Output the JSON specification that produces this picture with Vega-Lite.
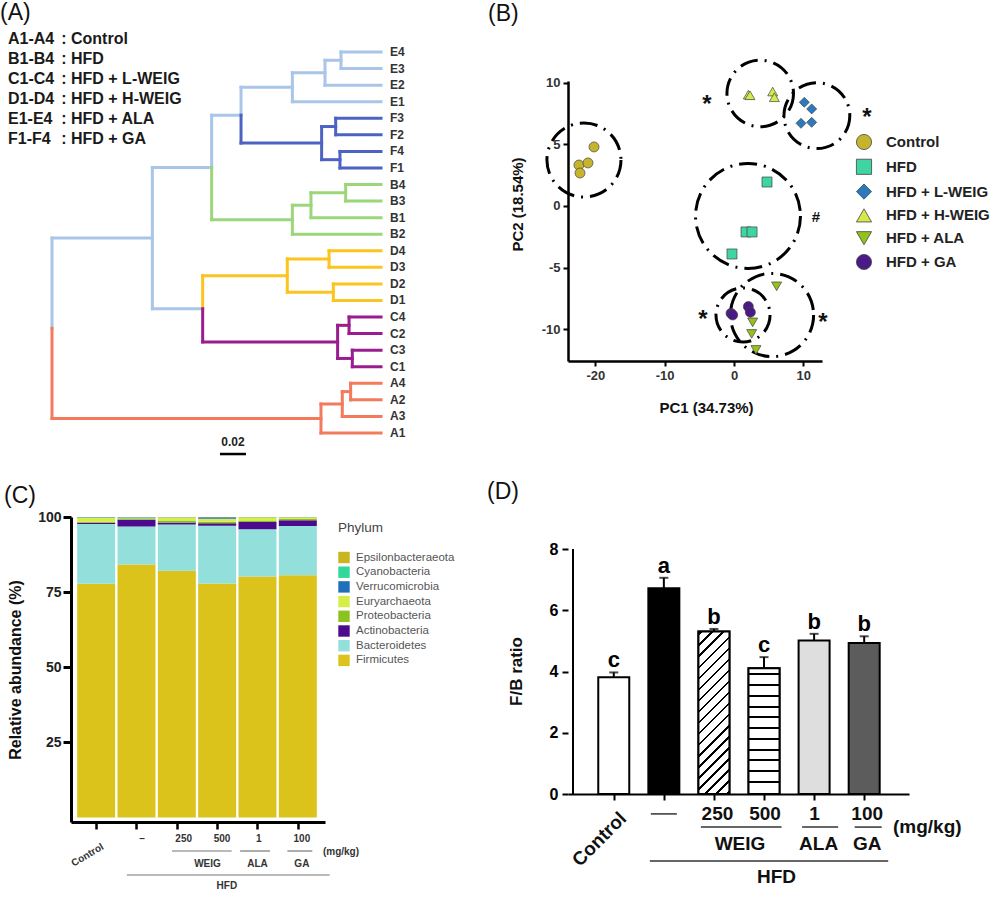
{
  "$schema": "https://vega.github.io/schema/vega-lite/v6.json",
  "autosize": {"type": "pad"},
  "padding": {"left": 0, "top": 2, "right": 0, "bottom": 0},
  "columns": 2,
  "align": "none",
  "bounds": "flush",
  "spacing": {"row": 156, "column": 243},
  "resolve": {"scale": {"color": "independent", "shape": "independent", "size": "independent", "fill": "independent", "stroke": "independent"}},
  "config": {
    "view": {"stroke": null},
    "font": "Liberation Sans",
    "axis": {"grid": false, "domainColor": "#000", "tickColor": "#000", "labelFont": "Liberation Sans", "titleFont": "Liberation Sans", "titleColor": "#111", "labelColor": "#222"},
    "legend": {"labelFont": "Liberation Sans", "titleFont": "Liberation Sans"},
    "title": {"font": "Liberation Sans", "fontSize": 23, "fontWeight": "normal", "color": "#111", "anchor": "start", "frame": "group", "baseline": "bottom"}
  },
  "concat": [
    {
      "width": 253, "height": 248,
      "title": {"text": "(A)", "dx": -71, "offset": 6},
      "layer": [
        {
          "data": {"values": [
            {"x":0,"x2":0.0772,"y":12.234,"y2":12.234,"c":"lb"},
            {"x":0,"x2":0.2069,"y":23.125,"y2":23.125,"c":"r"},
            {"x":0.0772,"x2":0.1228,"y":7.969,"y2":7.969,"c":"lb"},
            {"x":0.0772,"x2":0.1159,"y":16.5,"y2":16.5,"c":"lb"},
            {"x":0.1228,"x2":0.1454,"y":4.8125,"y2":4.8125,"c":"lb"},
            {"x":0.1228,"x2":0.1849,"y":11.125,"y2":11.125,"c":"g"},
            {"x":0.1454,"x2":0.1849,"y":3.125,"y2":3.125,"c":"lb"},
            {"x":0.1454,"x2":0.2074,"y":6.5,"y2":6.5,"c":"db"},
            {"x":0.1849,"x2":0.21,"y":2.25,"y2":2.25,"c":"lb"},
            {"x":0.1849,"x2":0.2531,"y":4,"y2":4,"c":"lb"},
            {"x":0.21,"x2":0.2223,"y":1.5,"y2":1.5,"c":"lb"},
            {"x":0.21,"x2":0.2531,"y":3,"y2":3,"c":"lb"},
            {"x":0.2223,"x2":0.2531,"y":1,"y2":1,"c":"lb"},
            {"x":0.2223,"x2":0.2531,"y":2,"y2":2,"c":"lb"},
            {"x":0.2074,"x2":0.2182,"y":5.5,"y2":5.5,"c":"db"},
            {"x":0.2074,"x2":0.2215,"y":7.5,"y2":7.5,"c":"db"},
            {"x":0.2182,"x2":0.2531,"y":5,"y2":5,"c":"db"},
            {"x":0.2182,"x2":0.2531,"y":6,"y2":6,"c":"db"},
            {"x":0.2215,"x2":0.2531,"y":7,"y2":7,"c":"db"},
            {"x":0.2215,"x2":0.2531,"y":8,"y2":8,"c":"db"},
            {"x":0.1849,"x2":0.1992,"y":10.25,"y2":10.25,"c":"g"},
            {"x":0.1849,"x2":0.2531,"y":12,"y2":12,"c":"g"},
            {"x":0.1992,"x2":0.2259,"y":9.5,"y2":9.5,"c":"g"},
            {"x":0.1992,"x2":0.2531,"y":11,"y2":11,"c":"g"},
            {"x":0.2259,"x2":0.2531,"y":9,"y2":9,"c":"g"},
            {"x":0.2259,"x2":0.2531,"y":10,"y2":10,"c":"g"},
            {"x":0.1159,"x2":0.181,"y":14.5,"y2":14.5,"c":"y"},
            {"x":0.1159,"x2":0.2197,"y":18.5,"y2":18.5,"c":"p"},
            {"x":0.181,"x2":0.2131,"y":13.5,"y2":13.5,"c":"y"},
            {"x":0.181,"x2":0.2164,"y":15.5,"y2":15.5,"c":"y"},
            {"x":0.2131,"x2":0.2531,"y":13,"y2":13,"c":"y"},
            {"x":0.2131,"x2":0.2531,"y":14,"y2":14,"c":"y"},
            {"x":0.2164,"x2":0.2531,"y":15,"y2":15,"c":"y"},
            {"x":0.2164,"x2":0.2531,"y":16,"y2":16,"c":"y"},
            {"x":0.2197,"x2":0.2285,"y":17.5,"y2":17.5,"c":"p"},
            {"x":0.2197,"x2":0.231,"y":19.5,"y2":19.5,"c":"p"},
            {"x":0.2285,"x2":0.2531,"y":17,"y2":17,"c":"p"},
            {"x":0.2285,"x2":0.2531,"y":18,"y2":18,"c":"p"},
            {"x":0.231,"x2":0.2531,"y":19,"y2":19,"c":"p"},
            {"x":0.231,"x2":0.2531,"y":20,"y2":20,"c":"p"},
            {"x":0.2069,"x2":0.2233,"y":22.25,"y2":22.25,"c":"r"},
            {"x":0.2069,"x2":0.2531,"y":24,"y2":24,"c":"r"},
            {"x":0.2233,"x2":0.2297,"y":21.5,"y2":21.5,"c":"r"},
            {"x":0.2233,"x2":0.2531,"y":23,"y2":23,"c":"r"},
            {"x":0.2297,"x2":0.2531,"y":21,"y2":21,"c":"r"},
            {"x":0.2297,"x2":0.2531,"y":22,"y2":22,"c":"r"},
            {"x":0,"x2":0,"y":12.234,"y2":17.68,"c":"lb"},
            {"x":0,"x2":0,"y":17.68,"y2":23.125,"c":"r"},
            {"x":0.0772,"x2":0.0772,"y":7.969,"y2":16.5,"c":"lb"},
            {"x":0.1228,"x2":0.1228,"y":4.8125,"y2":7.969,"c":"lb"},
            {"x":0.1228,"x2":0.1228,"y":7.969,"y2":11.125,"c":"g"},
            {"x":0.1159,"x2":0.1159,"y":14.5,"y2":16.5,"c":"y"},
            {"x":0.1159,"x2":0.1159,"y":16.5,"y2":18.5,"c":"p"},
            {"x":0.1454,"x2":0.1454,"y":3.125,"y2":4.8125,"c":"lb"},
            {"x":0.1454,"x2":0.1454,"y":4.8125,"y2":6.5,"c":"db"},
            {"x":0.1849,"x2":0.1849,"y":2.25,"y2":4,"c":"lb"},
            {"x":0.21,"x2":0.21,"y":1.5,"y2":3,"c":"lb"},
            {"x":0.2223,"x2":0.2223,"y":1,"y2":2,"c":"lb"},
            {"x":0.2074,"x2":0.2074,"y":5.5,"y2":7.5,"c":"db"},
            {"x":0.2182,"x2":0.2182,"y":5,"y2":6,"c":"db"},
            {"x":0.2215,"x2":0.2215,"y":7,"y2":8,"c":"db"},
            {"x":0.1849,"x2":0.1849,"y":10.25,"y2":12,"c":"g"},
            {"x":0.1992,"x2":0.1992,"y":9.5,"y2":11,"c":"g"},
            {"x":0.2259,"x2":0.2259,"y":9,"y2":10,"c":"g"},
            {"x":0.181,"x2":0.181,"y":13.5,"y2":15.5,"c":"y"},
            {"x":0.2131,"x2":0.2131,"y":13,"y2":14,"c":"y"},
            {"x":0.2164,"x2":0.2164,"y":15,"y2":16,"c":"y"},
            {"x":0.2197,"x2":0.2197,"y":17.5,"y2":19.5,"c":"p"},
            {"x":0.2285,"x2":0.2285,"y":17,"y2":18,"c":"p"},
            {"x":0.231,"x2":0.231,"y":19,"y2":20,"c":"p"},
            {"x":0.2069,"x2":0.2069,"y":22.25,"y2":24,"c":"r"},
            {"x":0.2233,"x2":0.2233,"y":21.5,"y2":23,"c":"r"},
            {"x":0.2297,"x2":0.2297,"y":21,"y2":22,"c":"r"}
          ]},
          "mark": {"type": "rule", "strokeWidth": 3, "strokeCap": "square"},
          "encoding": {
            "x": {"field": "x", "type": "quantitative", "scale": {"domain": [0.014615, 0.209231], "nice": false, "zero": false}, "axis": null},
            "x2": {"field": "x2"},
            "y": {"field": "y", "type": "quantitative", "scale": {"domain": [2.7507, 17.722], "reverse": true, "nice": false, "zero": false}, "axis": null},
            "y2": {"field": "y2"},
            "color": {"field": "c", "type": "nominal", "scale": {"domain": ["lb", "db", "g", "y", "p", "r"], "range": ["#a9c5e8", "#4d63c4", "#9cd67a", "#fbc41e", "#9a1c8f", "#f47a5d"]}, "legend": null}
          }
        },
        {
          "data": {"values": [
            {"leaf":"E4","i":1},{"leaf":"E3","i":2},{"leaf":"E2","i":3},{"leaf":"E1","i":4},
            {"leaf":"F3","i":5},{"leaf":"F2","i":6},{"leaf":"F4","i":7},{"leaf":"F1","i":8},
            {"leaf":"B4","i":9},{"leaf":"B3","i":10},{"leaf":"B1","i":11},{"leaf":"B2","i":12},
            {"leaf":"D4","i":13},{"leaf":"D3","i":14},{"leaf":"D2","i":15},{"leaf":"D1","i":16},
            {"leaf":"C4","i":17},{"leaf":"C2","i":18},{"leaf":"C3","i":19},{"leaf":"C1","i":20},
            {"leaf":"A4","i":21},{"leaf":"A2","i":22},{"leaf":"A3","i":23},{"leaf":"A1","i":24}
          ]},
          "mark": {"type": "text", "align": "left", "baseline": "middle", "fontSize": 12, "fontWeight": "bold", "color": "#333"},
          "encoding": {
            "x": {"datum": 0.26, "type": "quantitative"},
            "y": {"field": "i", "type": "quantitative"},
            "text": {"field": "leaf"}
          }
        },
        {
          "data": {"values": [
            {"key":"A1-A4","lab":"Control","r":0.2155},
            {"key":"B1-B4","lab":"HFD","r":1.422},
            {"key":"C1-C4","lab":"HFD + L-WEIG","r":2.629},
            {"key":"D1-D4","lab":"HFD + H-WEIG","r":3.836},
            {"key":"E1-E4","lab":"HFD + ALA","r":5.043},
            {"key":"F1-F4","lab":"HFD + GA","r":6.25}
          ]},
          "layer": [
            {"mark": {"type": "text", "align": "left", "baseline": "middle", "fontSize": 16, "fontWeight": "bold", "color": "#1a1a1a"},
             "encoding": {"x": {"datum": -0.03385, "type": "quantitative"}, "y": {"field": "r", "type": "quantitative"}, "text": {"field": "key"}}},
            {"mark": {"type": "text", "align": "center", "baseline": "middle", "fontSize": 16, "fontWeight": "bold", "color": "#1a1a1a"},
             "encoding": {"x": {"datum": 0.00923, "type": "quantitative"}, "y": {"field": "r", "type": "quantitative"}, "text": {"value": ":"}}},
            {"mark": {"type": "text", "align": "left", "baseline": "middle", "fontSize": 16, "fontWeight": "bold", "color": "#1a1a1a"},
             "encoding": {"x": {"datum": 0.014615, "type": "quantitative"}, "y": {"field": "r", "type": "quantitative"}, "text": {"field": "lab"}}}
          ]
        },
        {
          "data": {"values": [{"a": 0.1292, "b": 0.1492, "yy": 25.27, "lbl": "0.02", "m": 0.1392, "ty": 24.54}]},
          "layer": [
            {"mark": {"type": "rule", "strokeWidth": 2.5, "color": "#000"},
             "encoding": {"x": {"field": "a", "type": "quantitative"}, "x2": {"field": "b"}, "y": {"field": "yy", "type": "quantitative"}}},
            {"mark": {"type": "text", "align": "center", "baseline": "middle", "fontSize": 12, "fontWeight": "bold", "color": "#222"},
             "encoding": {"x": {"field": "m", "type": "quantitative"}, "y": {"field": "ty", "type": "quantitative"}, "text": {"field": "lbl"}}}
          ]
        }
      ]
    },
    {
      "width": 254, "height": 280,
      "title": {"text": "(B)", "dx": -80, "offset": 28},
      "encoding": {
        "x": {"field": "px", "type": "quantitative", "scale": {"domain": [-23.94, 12.69], "nice": false, "zero": false},
              "axis": {"values": [-20, -10, 0, 10], "labelExpr": "'' + datum.value", "title": "PC1 (34.73%)", "titleX": 138, "titleY": 46, "titleBaseline": "middle", "titleFontSize": 15, "titleFontWeight": "bold", "labelFontSize": 13, "labelFontWeight": "bold", "labelColor": "#333", "labelPadding": 3, "tickSize": 5, "tickWidth": 2, "domainWidth": 2.5}},
        "y": {"field": "py", "type": "quantitative", "scale": {"domain": [-12.6, 10.16], "nice": false, "zero": false},
              "axis": {"values": [-10, -5, 0, 5, 10], "labelExpr": "'' + datum.value", "title": "PC2 (18.54%)", "titleX": -51, "titleY": 123, "titleBaseline": "middle", "titleFontSize": 15, "titleFontWeight": "bold", "labelFontSize": 13, "labelFontWeight": "bold", "labelColor": "#333", "labelPadding": 3, "tickSize": 5, "tickWidth": 2, "domainWidth": 2.5}}
      },
      "layer": [
        {
          "data": {"values": [
            {"grp":"Control","px":-21.64,"py":3.74,"r":5.34},
            {"grp":"HFD + H-WEIG","px":3.78,"py":9.15,"r":4.8},
            {"grp":"HFD + L-WEIG","px":11.95,"py":7.34,"r":4.75},
            {"grp":"HFD","px":2.02,"py":-0.81,"r":7.57},
            {"grp":"HFD + GA","px":1.3,"py":-8.86,"r":3.9},
            {"grp":"HFD + ALA","px":5.48,"py":-8.86,"r":6.0}
          ]},
          "mark": {"type": "point", "shape": "circle", "filled": false, "stroke": "#000", "strokeWidth": 3, "strokeDash": [18, 7, 2, 7], "opacity": 1},
          "encoding": {
            "size": {"field": "r", "type": "quantitative", "scale": {"type": "pow", "exponent": 2, "domain": [0, 10], "range": [0, 19227]}, "legend": null}
          }
        },
        {
          "data": {"values": [
            {"grp":"Control","px":-20.19,"py":4.8},{"grp":"Control","px":-22.36,"py":3.33},{"grp":"Control","px":-21.06,"py":3.5},{"grp":"Control","px":-22.21,"py":2.68},
            {"grp":"HFD","px":4.76,"py":1.95},{"grp":"HFD","px":1.73,"py":-2.11},{"grp":"HFD","px":2.6,"py":-2.11},{"grp":"HFD","px":-0.29,"py":-3.9},
            {"grp":"HFD + L-WEIG","px":10.14,"py":8.43},{"grp":"HFD + L-WEIG","px":11.2,"py":7.89},{"grp":"HFD + L-WEIG","px":9.66,"py":6.72},{"grp":"HFD + L-WEIG","px":11.2,"py":6.8},
            {"grp":"HFD + H-WEIG","px":2.07,"py":9.05},{"grp":"HFD + H-WEIG","px":2.3,"py":9.0},{"grp":"HFD + H-WEIG","px":5.58,"py":9.3},{"grp":"HFD + H-WEIG","px":5.82,"py":8.84},
            {"grp":"HFD + ALA","px":6.15,"py":-6.53},{"grp":"HFD + ALA","px":2.69,"py":-9.46},{"grp":"HFD + ALA","px":2.55,"py":-10.4},{"grp":"HFD + ALA","px":3.17,"py":-11.7},
            {"grp":"HFD + GA","px":-0.43,"py":-8.73},{"grp":"HFD + GA","px":2.07,"py":-8.18},{"grp":"HFD + GA","px":2.36,"py":-8.64},{"grp":"HFD + GA","px":-0.19,"py":-8.86}
          ]},
          "mark": {"type": "point", "filled": true, "size": 100, "stroke": "#444", "strokeWidth": 0.7, "opacity": 1},
          "encoding": {
            "color": {"field": "grp", "type": "nominal",
                      "scale": {"domain": ["Control", "HFD", "HFD + L-WEIG", "HFD + H-WEIG", "HFD + ALA", "HFD + GA"], "range": ["#c6b52c", "#3fd5a3", "#2b7ac0", "#d5e84c", "#94c11c", "#4b1a87"]},
                      "legend": {"title": null, "orient": "none", "legendX": 288, "legendY": 53, "padding": 0, "symbolSize": 230, "labelFontSize": 15, "labelFontWeight": "bold", "labelColor": "#222", "labelOffset": 14, "rowPadding": 4.8, "symbolStrokeColor": "#444", "symbolStrokeWidth": 0.8}},
            "shape": {"field": "grp", "type": "nominal",
                      "scale": {"domain": ["Control", "HFD", "HFD + L-WEIG", "HFD + H-WEIG", "HFD + ALA", "HFD + GA"], "range": ["circle", "square", "diamond", "triangle-up", "triangle-down", "circle"]},
                      "legend": {"title": null, "orient": "none", "legendX": 288, "legendY": 53, "padding": 0, "symbolSize": 230, "labelFontSize": 15, "labelFontWeight": "bold", "labelColor": "#222", "labelOffset": 14, "rowPadding": 4.8, "symbolStrokeColor": "#444", "symbolStrokeWidth": 0.8}}
          }
        },
        {
          "data": {"values": [
            {"t":"*","px":-3.89,"py":8.7},
            {"t":"*","px":19.18,"py":7.64},
            {"t":"*","px":-4.47,"py":-8.78},
            {"t":"*","px":12.84,"py":-9.02}
          ]},
          "mark": {"type": "text", "fontSize": 24, "fontWeight": "bold", "align": "center", "baseline": "middle", "dy": 6, "color": "#111"},
          "encoding": {"text": {"field": "t"}}
        },
        {
          "data": {"values": [{"t":"#","px":11.83,"py":-0.89}]},
          "mark": {"type": "text", "fontSize": 15, "fontWeight": "bold", "align": "center", "baseline": "middle", "color": "#111"},
          "encoding": {"text": {"field": "t"}}
        }
      ]
    },
    {
      "width": 254, "height": 305,
      "title": {"text": "(C)", "dx": -67, "offset": 2},
      "encoding": {
        "x": {"field": "px", "type": "quantitative", "scale": {"domain": [0.5, 6.55], "nice": false, "zero": false},
              "axis": {"values": [1, 2, 3, 4, 5, 6], "labels": false, "title": null, "tickSize": 7, "tickWidth": 2.5, "domainWidth": 3}}
      },
      "layer": [
        {
          "data": {"values": [
            {"px":1,"phylum":"Firmicutes","v":77.8,"k":1},{"px":1,"phylum":"Bacteroidetes","v":19.9,"k":2},{"px":1,"phylum":"Actinobacteria","v":0.4,"k":3},{"px":1,"phylum":"Proteobacteria","v":0.3,"k":4},{"px":1,"phylum":"Euryarchaeota","v":1.3,"k":5},{"px":1,"phylum":"Verrucomicrobia","v":0.1,"k":6},{"px":1,"phylum":"Cyanobacteria","v":0.1,"k":7},{"px":1,"phylum":"Epsilonbacteraeota","v":0.1,"k":8},
            {"px":2,"phylum":"Firmicutes","v":84.2,"k":1},{"px":2,"phylum":"Bacteroidetes","v":12.6,"k":2},{"px":2,"phylum":"Actinobacteria","v":2.3,"k":3},{"px":2,"phylum":"Proteobacteria","v":0.3,"k":4},{"px":2,"phylum":"Euryarchaeota","v":0.2,"k":5},{"px":2,"phylum":"Verrucomicrobia","v":0.2,"k":6},{"px":2,"phylum":"Cyanobacteria","v":0.1,"k":7},{"px":2,"phylum":"Epsilonbacteraeota","v":0.1,"k":8},
            {"px":3,"phylum":"Firmicutes","v":82.1,"k":1},{"px":3,"phylum":"Bacteroidetes","v":15.4,"k":2},{"px":3,"phylum":"Actinobacteria","v":0.7,"k":3},{"px":3,"phylum":"Proteobacteria","v":0.6,"k":4},{"px":3,"phylum":"Euryarchaeota","v":1.0,"k":5},{"px":3,"phylum":"Verrucomicrobia","v":0.1,"k":6},{"px":3,"phylum":"Cyanobacteria","v":0.05,"k":7},{"px":3,"phylum":"Epsilonbacteraeota","v":0.05,"k":8},
            {"px":4,"phylum":"Firmicutes","v":77.9,"k":1},{"px":4,"phylum":"Bacteroidetes","v":19.2,"k":2},{"px":4,"phylum":"Actinobacteria","v":0.8,"k":3},{"px":4,"phylum":"Proteobacteria","v":0.5,"k":4},{"px":4,"phylum":"Euryarchaeota","v":1.0,"k":5},{"px":4,"phylum":"Verrucomicrobia","v":0.5,"k":6},{"px":4,"phylum":"Cyanobacteria","v":0.05,"k":7},{"px":4,"phylum":"Epsilonbacteraeota","v":0.05,"k":8},
            {"px":5,"phylum":"Firmicutes","v":80.2,"k":1},{"px":5,"phylum":"Bacteroidetes","v":15.7,"k":2},{"px":5,"phylum":"Actinobacteria","v":2.4,"k":3},{"px":5,"phylum":"Proteobacteria","v":0.5,"k":4},{"px":5,"phylum":"Euryarchaeota","v":1.0,"k":5},{"px":5,"phylum":"Verrucomicrobia","v":0.1,"k":6},{"px":5,"phylum":"Cyanobacteria","v":0.05,"k":7},{"px":5,"phylum":"Epsilonbacteraeota","v":0.05,"k":8},
            {"px":6,"phylum":"Firmicutes","v":80.6,"k":1},{"px":6,"phylum":"Bacteroidetes","v":16.4,"k":2},{"px":6,"phylum":"Actinobacteria","v":1.9,"k":3},{"px":6,"phylum":"Proteobacteria","v":0.5,"k":4},{"px":6,"phylum":"Euryarchaeota","v":0.4,"k":5},{"px":6,"phylum":"Verrucomicrobia","v":0.1,"k":6},{"px":6,"phylum":"Cyanobacteria","v":0.05,"k":7},{"px":6,"phylum":"Epsilonbacteraeota","v":0.05,"k":8}
          ]},
          "mark": {"type": "bar", "orient": "vertical", "width": 38},
          "encoding": {
            "y": {"field": "v", "type": "quantitative", "stack": "zero", "scale": {"domain": [-1.5, 100], "nice": false, "zero": false},
                  "axis": {"values": [25, 50, 75, 100], "title": "Relative abundance (%)", "titleX": -56, "titleBaseline": "middle", "titleFontSize": 16, "titleFontWeight": "bold", "labelFontSize": 14, "labelFontWeight": "bold", "labelColor": "#222", "tickSize": 8, "tickWidth": 3, "domainWidth": 3, "labelPadding": 2}},
            "color": {"field": "phylum", "type": "nominal",
                      "scale": {"domain": ["Epsilonbacteraeota", "Cyanobacteria", "Verrucomicrobia", "Euryarchaeota", "Proteobacteria", "Actinobacteria", "Bacteroidetes", "Firmicutes"],
                                "range": ["#c9b51e", "#31d79b", "#1f6fbb", "#d6ee4a", "#8cc21e", "#4b0b8c", "#92dfdc", "#dcc31b"]},
                      "legend": {"title": "Phylum", "orient": "none", "legendX": 267, "legendY": 4, "padding": 0, "titleFontSize": 13.5, "titleFontWeight": "normal", "titleColor": "#444", "titlePadding": 17, "labelFontSize": 11.5, "labelColor": "#555", "symbolType": "square", "symbolSize": 130, "symbolStrokeWidth": 0, "rowPadding": 2.7, "labelOffset": 6}},
            "order": {"field": "k", "type": "quantitative"}
          }
        },
        {
          "data": {"values": [
            {"t":"–","px":2.14,"py":-7.2},{"t":"250","px":3.17,"py":-7.2},{"t":"500","px":4.12,"py":-7.2},{"t":"1","px":5.03,"py":-7.2},{"t":"100","px":6.1,"py":-7.2},
            {"t":"(mg/kg)","px":7.07,"py":-11.5},
            {"t":"WEIG","px":3.76,"py":-15.5},{"t":"ALA","px":5.0,"py":-15.5},{"t":"GA","px":6.1,"py":-15.5},
            {"t":"HFD","px":4.24,"py":-22.8}
          ]},
          "mark": {"type": "text", "fontSize": 10, "fontWeight": "bold", "color": "#333", "align": "center", "baseline": "middle"},
          "encoding": {"y": {"field": "py", "type": "quantitative", "scale": {"domain": [-1.5, 100], "nice": false, "zero": false}}, "text": {"field": "t"}}
        },
        {
          "data": {"values": [{"t":"Control","px":0.786,"py":-12.5}]},
          "mark": {"type": "text", "fontSize": 10, "fontWeight": "bold", "color": "#333", "align": "center", "baseline": "middle", "angle": -31},
          "encoding": {"y": {"field": "py", "type": "quantitative", "scale": {"domain": [-1.5, 100], "nice": false, "zero": false}}, "text": {"field": "t"}}
        },
        {
          "data": {"values": [
            {"px":2.88,"px2":4.36,"py":-11.15},{"px":4.57,"px2":5.31,"py":-11.15},{"px":5.74,"px2":6.36,"py":-11.15},{"px":1.76,"px2":6.79,"py":-19.14}
          ]},
          "mark": {"type": "rule", "strokeWidth": 1.2, "color": "#777"},
          "encoding": {"x2": {"field": "px2"}, "y": {"field": "py", "type": "quantitative", "scale": {"domain": [-1.5, 100], "nice": false, "zero": false}}}
        }
      ]
    },
    {
      "width": 341, "height": 277,
      "title": {"text": "(D)", "dx": -81, "offset": 13},
      "encoding": {
        "x": {"field": "px", "type": "quantitative", "scale": {"domain": [0.186, 6.795], "nice": false, "zero": false},
              "axis": {"values": [1, 2, 3, 4, 5, 6], "labels": false, "title": null, "tickSize": 6, "tickWidth": 2, "domainWidth": 2}},
        "y": {"field": "py", "type": "quantitative", "scale": {"domain": [0, 9.0457], "nice": false, "zero": false},
              "axis": {"values": [0, 2, 4, 6, 8], "title": "F/B ratio", "titleX": -52, "titleY": 154, "titleBaseline": "middle", "titleFontSize": 17, "titleFontWeight": "bold", "labelFontSize": 16, "labelFontWeight": "bold", "labelColor": "#000", "labelPadding": 4, "tickSize": 6, "tickWidth": 2, "domain": false}}
      },
      "layer": [
        {
          "data": {"values": [{"px": 0.186, "py": 0, "top": 8}]},
          "mark": {"type": "rule", "strokeWidth": 2, "color": "#000"},
          "encoding": {"y2": {"field": "top"}}
        },
        {
          "data": {"values": [
            {"grp":"Control","px":1,"py":3.81,"up":3.97,"let":"c"},
            {"grp":"HFD","px":2,"py":6.72,"up":7.06,"let":"a"},
            {"grp":"250","px":3,"py":5.31,"up":5.39,"let":"b"},
            {"grp":"500","px":4,"py":4.11,"up":4.47,"let":"c"},
            {"grp":"ALA","px":5,"py":5.01,"up":5.23,"let":"b"},
            {"grp":"GA","px":6,"py":4.93,"up":5.15,"let":"b"}
          ]},
          "layer": [
            {"mark": {"type": "rule", "strokeWidth": 2, "color": "#000"},
             "encoding": {"y2": {"field": "up"}}},
            {"mark": {"type": "tick", "orient": "horizontal", "size": 9, "thickness": 2, "color": "#000"},
             "encoding": {"y": {"field": "up", "type": "quantitative"}}},
            {"mark": {"type": "bar", "orient": "vertical", "width": 31, "stroke": "#000", "strokeWidth": 2},
             "encoding": {"color": {"field": "grp", "type": "nominal", "scale": {"domain": ["Control", "HFD", "250", "500", "ALA", "GA"], "range": ["#ffffff", "#000000", "#ffffff", "#ffffff", "#dedede", "#5c5c5c"]}, "legend": null}}},
            {"transform": [{"filter": "datum.grp == '250'"}],
             "mark": {"type": "bar", "orient": "vertical", "width": 31, "stroke": "#000", "strokeWidth": 2,
                      "fill": {"gradient": "linear", "x1": 0, "y1": 0, "x2": 1, "y2": 5.245, "stops": [
                        {"offset": 0, "color": "#fff"},
                        {"offset": 0.0024, "color": "#fff"}, {"offset": 0.0024, "color": "#000"}, {"offset": 0.0056, "color": "#000"}, {"offset": 0.0056, "color": "#fff"},
                        {"offset": 0.0149, "color": "#fff"}, {"offset": 0.0149, "color": "#000"}, {"offset": 0.0181, "color": "#000"}, {"offset": 0.0181, "color": "#fff"},
                        {"offset": 0.0273, "color": "#fff"}, {"offset": 0.0273, "color": "#000"}, {"offset": 0.0305, "color": "#000"}, {"offset": 0.0305, "color": "#fff"},
                        {"offset": 0.0398, "color": "#fff"}, {"offset": 0.0398, "color": "#000"}, {"offset": 0.0430, "color": "#000"}, {"offset": 0.0430, "color": "#fff"},
                        {"offset": 0.0523, "color": "#fff"}, {"offset": 0.0523, "color": "#000"}, {"offset": 0.0555, "color": "#000"}, {"offset": 0.0555, "color": "#fff"},
                        {"offset": 0.0648, "color": "#fff"}, {"offset": 0.0648, "color": "#000"}, {"offset": 0.0680, "color": "#000"}, {"offset": 0.0680, "color": "#fff"},
                        {"offset": 0.0772, "color": "#fff"}, {"offset": 0.0772, "color": "#000"}, {"offset": 0.0804, "color": "#000"}, {"offset": 0.0804, "color": "#fff"},
                        {"offset": 0.0897, "color": "#fff"}, {"offset": 0.0897, "color": "#000"}, {"offset": 0.0929, "color": "#000"}, {"offset": 0.0929, "color": "#fff"},
                        {"offset": 0.1022, "color": "#fff"}, {"offset": 0.1022, "color": "#000"}, {"offset": 0.1054, "color": "#000"}, {"offset": 0.1054, "color": "#fff"},
                        {"offset": 0.1146, "color": "#fff"}, {"offset": 0.1146, "color": "#000"}, {"offset": 0.1178, "color": "#000"}, {"offset": 0.1178, "color": "#fff"},
                        {"offset": 0.1271, "color": "#fff"}, {"offset": 0.1271, "color": "#000"}, {"offset": 0.1303, "color": "#000"}, {"offset": 0.1303, "color": "#fff"},
                        {"offset": 0.1396, "color": "#fff"}, {"offset": 0.1396, "color": "#000"}, {"offset": 0.1428, "color": "#000"}, {"offset": 0.1428, "color": "#fff"},
                        {"offset": 0.1520, "color": "#fff"}, {"offset": 0.1520, "color": "#000"}, {"offset": 0.1552, "color": "#000"}, {"offset": 0.1552, "color": "#fff"},
                        {"offset": 0.1645, "color": "#fff"}, {"offset": 0.1645, "color": "#000"}, {"offset": 0.1677, "color": "#000"}, {"offset": 0.1677, "color": "#fff"},
                        {"offset": 0.1770, "color": "#fff"}, {"offset": 0.1770, "color": "#000"}, {"offset": 0.1802, "color": "#000"}, {"offset": 0.1802, "color": "#fff"},
                        {"offset": 0.1894, "color": "#fff"}, {"offset": 0.1894, "color": "#000"}, {"offset": 0.1926, "color": "#000"}, {"offset": 0.1926, "color": "#fff"},
                        {"offset": 0.2019, "color": "#fff"}, {"offset": 0.2019, "color": "#000"}, {"offset": 0.2051, "color": "#000"}, {"offset": 0.2051, "color": "#fff"},
                        {"offset": 0.2144, "color": "#fff"}, {"offset": 0.2144, "color": "#000"}, {"offset": 0.2176, "color": "#000"}, {"offset": 0.2176, "color": "#fff"},
                        {"offset": 1, "color": "#fff"}
                      ]}},
             "encoding": {}},
            {"transform": [{"filter": "datum.grp == '500'"}],
             "mark": {"type": "bar", "orient": "vertical", "width": 31, "stroke": "#000", "strokeWidth": 2,
                      "fill": {"gradient": "linear", "x1": 0, "y1": 0, "x2": 0, "y2": 1, "stops": [
                        {"offset": 0, "color": "#fff"},
                        {"offset": 0.040, "color": "#fff"}, {"offset": 0.040, "color": "#000"}, {"offset": 0.056, "color": "#000"}, {"offset": 0.056, "color": "#fff"},
                        {"offset": 0.1257, "color": "#fff"}, {"offset": 0.1257, "color": "#000"}, {"offset": 0.1417, "color": "#000"}, {"offset": 0.1417, "color": "#fff"},
                        {"offset": 0.2114, "color": "#fff"}, {"offset": 0.2114, "color": "#000"}, {"offset": 0.2274, "color": "#000"}, {"offset": 0.2274, "color": "#fff"},
                        {"offset": 0.2971, "color": "#fff"}, {"offset": 0.2971, "color": "#000"}, {"offset": 0.3131, "color": "#000"}, {"offset": 0.3131, "color": "#fff"},
                        {"offset": 0.3828, "color": "#fff"}, {"offset": 0.3828, "color": "#000"}, {"offset": 0.3988, "color": "#000"}, {"offset": 0.3988, "color": "#fff"},
                        {"offset": 0.4685, "color": "#fff"}, {"offset": 0.4685, "color": "#000"}, {"offset": 0.4845, "color": "#000"}, {"offset": 0.4845, "color": "#fff"},
                        {"offset": 0.5542, "color": "#fff"}, {"offset": 0.5542, "color": "#000"}, {"offset": 0.5702, "color": "#000"}, {"offset": 0.5702, "color": "#fff"},
                        {"offset": 0.6399, "color": "#fff"}, {"offset": 0.6399, "color": "#000"}, {"offset": 0.6559, "color": "#000"}, {"offset": 0.6559, "color": "#fff"},
                        {"offset": 0.7256, "color": "#fff"}, {"offset": 0.7256, "color": "#000"}, {"offset": 0.7416, "color": "#000"}, {"offset": 0.7416, "color": "#fff"},
                        {"offset": 0.8113, "color": "#fff"}, {"offset": 0.8113, "color": "#000"}, {"offset": 0.8273, "color": "#000"}, {"offset": 0.8273, "color": "#fff"},
                        {"offset": 0.897, "color": "#fff"}, {"offset": 0.897, "color": "#000"}, {"offset": 0.913, "color": "#000"}, {"offset": 0.913, "color": "#fff"},
                        {"offset": 1, "color": "#fff"}
                      ]}},
             "encoding": {}},
            {"mark": {"type": "text", "fontSize": 22, "fontWeight": "bold", "align": "center", "baseline": "alphabetic", "dy": -5, "color": "#000"},
             "encoding": {"y": {"field": "up", "type": "quantitative"}, "text": {"field": "let"}}}
          ]
        },
        {
          "data": {"values": [
            {"t":"250","px":3.07,"py":-0.65},{"t":"500","px":4.02,"py":-0.65},{"t":"1","px":5.01,"py":-0.65},{"t":"100","px":6.06,"py":-0.65},
            {"t":"WEIG","px":3.52,"py":-1.63},{"t":"ALA","px":5.09,"py":-1.63},{"t":"GA","px":6.06,"py":-1.63},
            {"t":"HFD","px":4.25,"py":-2.71},{"t":"(mg/kg)","px":7.26,"py":-1.08}
          ]},
          "mark": {"type": "text", "fontSize": 19, "fontWeight": "bold", "align": "center", "baseline": "middle", "color": "#111"},
          "encoding": {"text": {"field": "t"}}
        },
        {
          "data": {"values": [{"t":"Control","px":1.19,"py":-0.7}]},
          "mark": {"type": "text", "fontSize": 19, "fontWeight": "bold", "align": "right", "baseline": "middle", "angle": -45, "color": "#111"},
          "encoding": {"text": {"field": "t"}}
        },
        {
          "data": {"values": [
            {"px":2.74,"px2":4.35,"py":-1.08},{"px":4.76,"px2":5.48,"py":-1.08},{"px":5.81,"px2":6.35,"py":-1.08},{"px":1.72,"px2":6.48,"py":-2.19},{"px":1.74,"px2":2.26,"py":-0.65}
          ]},
          "mark": {"type": "rule", "strokeWidth": 1.5, "color": "#333"},
          "encoding": {"x2": {"field": "px2"}}
        }
      ]
    }
  ]
}
